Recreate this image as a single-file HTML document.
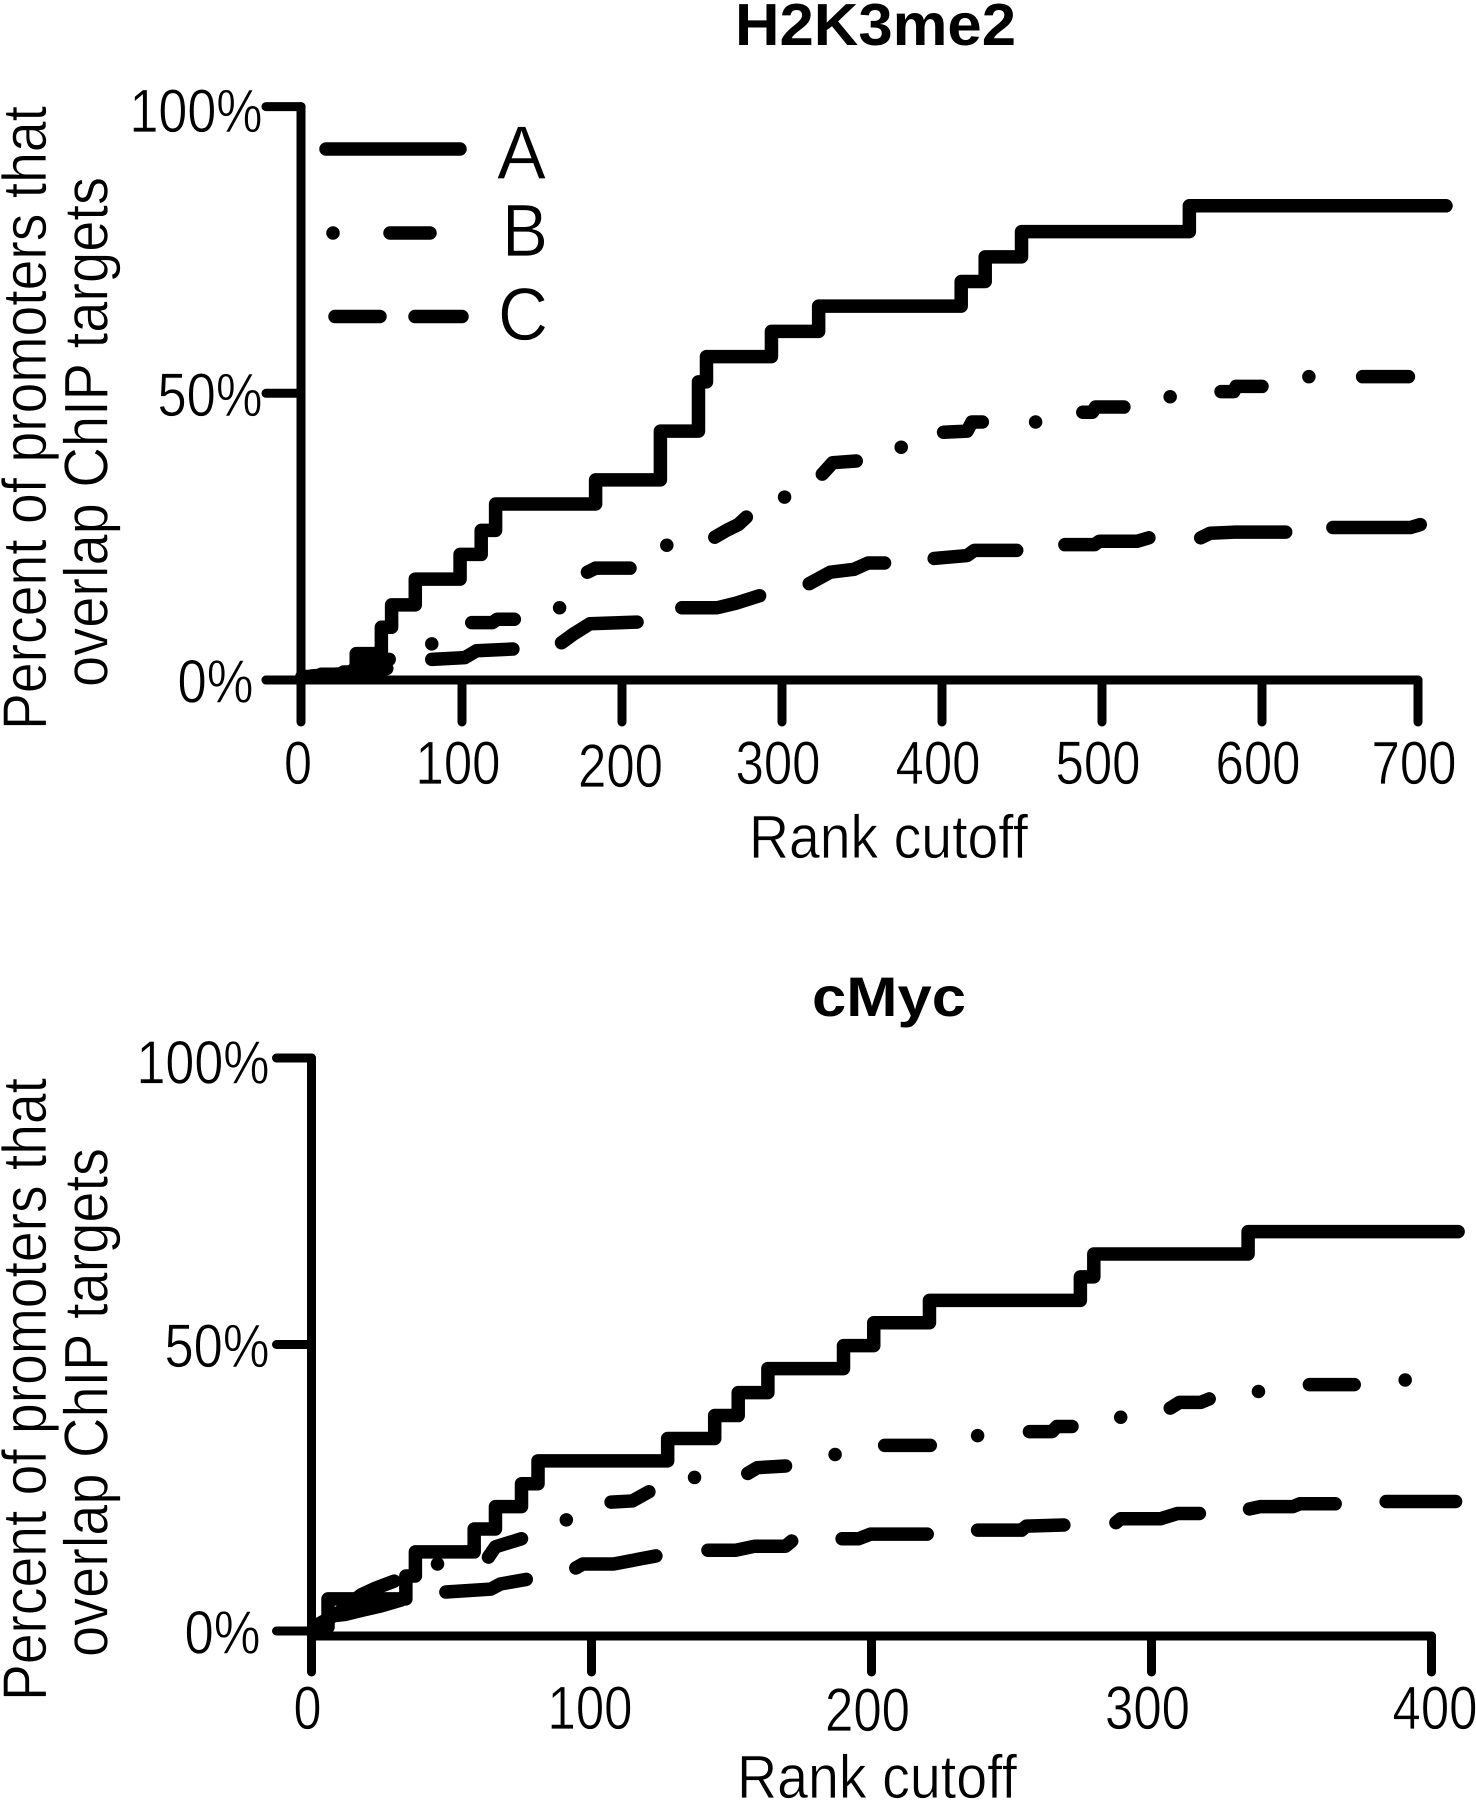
<!DOCTYPE html>
<html lang="en">
<head>
<meta charset="utf-8">
<title>Percent of promoters that overlap ChIP targets</title>
<style>
html,body{margin:0;padding:0;background:#fff;width:1476px;height:1800px;overflow:hidden}
svg{display:block}
text{font-family:"Liberation Sans",sans-serif;fill:#000;stroke:#fff;stroke-width:0.7}
text.bold{font-weight:bold;stroke:none}
.ax{stroke:#000;stroke-width:9;stroke-linecap:round;fill:none}
.ser{stroke:#000;stroke-width:13.5;stroke-linecap:round;stroke-linejoin:round;fill:none}
</style>
</head>
<body>
<svg id="chart" xmlns="http://www.w3.org/2000/svg" width="1476" height="1800" viewBox="0 0 1476 1800">
  <rect x="0" y="0" width="1476" height="1800" fill="#fff"/>
</svg>
<script>
// ---------- H2K3me2 panel data ----------
const h3Categories = ['A', 'B', 'C'];
const h3XTicks = [0, 100, 200, 300, 400, 500, 600, 697.5];
const h3XLabels = ['0', '100', '200', '300', '400', '500', '600', '700'];
const h3YTicks = [0, 50, 100];
const h3YLabels = ['0%', '50%', '100%'];
const h3SeriesA = [[0,0.6],[12,1],[26,1.4],[33.9,4.6],[49.6,9.2],[56,13.1],[70.8,17.6],[98.8,21.9],[112,26.1],[121,30.7],[183.5,34.9],[224,43.4],[247.8,52],[252.8,56.4],[293.4,60.8],[322.9,65.2],[412,69.5],[427,73.8],[449.7,78.2],[554.6,82.7],[715,82.7]];
const h3SeriesB = [
  [[5.9,0.7],[30,1.2],[35,2.6],[46,3],[54.5,3.6]],
  [[81.1,6.3]],
  [[106.1,10],[119,10],[122,10.6],[132.7,10.6]],
  [[161,12.6]],
  [[178.4,18.8],[183.4,19.5],[205,19.5]],
  [[228,23.5]],
  [[258,24.9],[265.4,26.1],[272.7,27.1],[277.7,28.4]],
  [[301.6,31.9]],
  [[325.2,35.9],[331.7,37.9],[346.4,38.2]],
  [[374.5,40.6]],
  [[401,43.2],[415.7,43.4],[418.7,45],[425.2,45]],
  [[458.5,45]],
  [[488,46.7],[494,46.7],[496,47.6],[513.7,47.6]],
  [[542.6,49.4]],
  [[574.4,50.3],[582.4,50.3],[583.8,51.2],[600,51.2]],
  [[629.3,52.9]],
  [[662.9,52.9],[691.5,52.9]]
];
const h3SeriesC = [
  [[8.8,0.7],[30,1],[53,2]],
  [[81.1,3.6],[101.7,3.9],[109,5.1],[131.8,5.4]],
  [[162.2,6.5],[169.6,8],[179.9,9.8],[209.4,10.1]],
  [[237.4,12.6],[259.5,12.6],[271.25,13.4],[286,14.7]],
  [[317,16.8],[330.2,18.8],[345,19.3],[353.8,20.4],[364.1,20.4]],
  [[395.1,21.2],[415.7,21.7],[420.2,22.6],[446.7,22.6]],
  [[476.8,23.6],[495.4,23.6],[498.3,24.2],[522,24.2],[529.3,24.8]],
  [[561.7,24.8],[567.6,25.6],[583.8,25.8],[614.8,25.8]],
  [[644.3,26.6],[693,26.6],[698.9,27.1]]
];

// ---------- cMyc panel data ----------
const myXTicks = [0, 100, 200, 300, 400];
const myXLabels = ['0', '100', '200', '300', '400'];
const myYTicks = [0, 50, 100];
const myYLabels = ['0%', '50%', '100%'];
const mySeriesA = [[0.8,0.7],[5.9,5.6],[33.7,9.6],[37.1,13.8],[58.1,17.8],[65.7,21.7],[75,25.7],[80.9,29.7],[127.2,33.6],[144,37.6],[152.4,41.6],[163,45.8],[190,49.8],[200.8,53.8],[220.7,57.7],[274.6,61.8],[279.4,65.8],[334.5,69.7],[409.5,69.7]];
const mySeriesB = [
  [[2.5,1.2],[9.2,3],[17.7,6.3],[23,7.5],[29.5,8.7]],
  [[45,11.7]],
  [[63.2,12.9],[65.7,14.7],[75,16.1]],
  [[91,19.4]],
  [[107,22.5],[114.6,22.7],[120.5,24.3]],
  [[136.8,26.8]],
  [[155.8,27.5],[159.2,28.5],[169.3,28.8]],
  [[187,30.8]],
  [[204.7,32.4],[221,32.4]],
  [[237.9,34.1]],
  [[256.4,34.8],[264.5,34.8],[266.2,35.7],[271.6,35.7]],
  [[289,37.3]],
  [[306.7,38.9],[310,39.9],[317.6,39.9],[320.6,40.5]],
  [[338.2,41.8]],
  [[356.4,43],[372.4,43]],
  [[390.6,43.8]]
];
const mySeriesC = [
  [[6.7,2.6],[12,2.9],[18,3.6],[25,4.4],[32,5.4]],
  [[48,6.8],[64,7.3],[67.4,8.2],[76.7,9]],
  [[94.4,11],[96.9,11.7],[107.9,11.7],[123,13.1]],
  [[141.6,14.1],[151.6,14.1],[158.3,14.8],[169.3,14.8],[171.5,15.7]],
  [[189.5,16.1],[195.4,16.1],[199.6,16.9],[219.9,16.9]],
  [[237.9,17.6],[253.6,17.6],[255.3,18.3],[268.7,18.5]],
  [[287.3,18.9],[289,19.6],[303.3,19.6],[309.2,20.5],[317.1,20.5]],
  [[335,21.3],[338.7,21.7],[350.5,21.7],[353,22.2],[365.6,22.2]],
  [[383.8,22.6],[408.6,22.6]]
];

const svg = document.getElementById('chart');
const NS = 'http://www.w3.org/2000/svg';

function addText(str, left, baseline, size, width, name, extra) {
  const el = document.createElementNS(NS, 'text');
  
  
  el.setAttribute('x', left);
  el.setAttribute('y', baseline);
  el.setAttribute('font-size', size);
  el.setAttribute('textLength', width);
  el.setAttribute('lengthAdjust', 'spacingAndGlyphs');
  if (extra && extra.bold) el.setAttribute('class', 'bold');
  if (extra && extra.rotate) el.setAttribute('transform', 'rotate(-90 ' + left + ' ' + baseline + ')');
  el.textContent = str;
  svg.appendChild(el);
  return el;
}

function addPath(d, cls, name) {
  const el = document.createElementNS(NS, 'path');
  
  
  el.setAttribute('d', d);
  el.setAttribute('class', cls);
  svg.appendChild(el);
  return el;
}

function widthFor(label) {
  return label.length === 1 ? 28 : 85;
}

function yWidthFor(label) {
  return label.length === 4 ? 133 : label.length === 3 ? 105 : 76;
}

function drawPanel(p) {
  const X = v => p.x0 + v * p.xScale;
  const Y = v => p.y0 - v * p.yScale;

  // axes
  addPath('M' + p.axisX + ' ' + Y(100) + 'V' + p.axisBottom, 'ax', p.key + '-y-axis');
  addPath('M' + (p.axisX - p.xAxisLead) + ' ' + p.xAxisY + 'H' + X(p.xTicks[p.xTicks.length - 1]), 'ax', p.key + '-x-axis');

  // y ticks and labels
  p.yTicks.forEach((t, i) => {
    const label = p.yLabels[i];
    addPath('M' + (p.axisX - 35) + ' ' + Y(t) + 'H' + p.axisX, 'ax', p.key + '-y-tick-' + t);
    const w = yWidthFor(label);
    const right = p.axisX - 42 + p.yLabelDx + (t === 0 ? -9 : 0);
    const base = Y(t) + (t === 100 ? 25.5 : 22.5);
    addText(label, right - w, base, 61, w, p.key + '-y-label-' + t);
  });

  // x ticks and labels
  p.xTicks.forEach((t, i) => {
    const label = p.xLabels[i];
    if (i > 0) addPath('M' + X(t) + ' ' + p.xAxisY + 'V' + p.axisBottom, 'ax', p.key + '-x-tick-' + label);
    const w = widthFor(label);
    const cx = X(t) - 4 + (p.labelDx[label] || 0);
    const base = p.xLabelY + (p.labelDy[label] || 0);
    addText(label, cx - w / 2, base, 61, w, p.key + '-x-label-' + label);
  });

  // series A : step line
  let d = '';
  p.a.forEach((pt, i) => {
    if (i === 0) d += 'M' + X(pt[0]) + ' ' + Y(pt[1]);
    else d += 'H' + X(pt[0]) + 'V' + Y(pt[1]);
  });
  addPath(d, 'ser', p.key + '-series-a');

  // series B and C : broken fragments
  [['b', p.b], ['c', p.c]].forEach(s => {
    s[1].forEach((frag, i) => {
      let f = 'M' + X(frag[0][0]) + ' ' + Y(frag[0][1]);
      if (frag.length === 1) f += 'h0.01';
      for (let j = 1; j < frag.length; j++) f += 'L' + X(frag[j][0]) + ' ' + Y(frag[j][1]);
      addPath(f, 'ser', p.key + '-series-' + s[0] + '-segment-' + (i + 1));
    });
  });
}

drawPanel({
  key: 'h3k', x0: 302, xScale: 1.6, y0: 680, yScale: 5.734,
  axisX: 301, axisBottom: 722, xAxisY: 680, xAxisLead: 35, xLabelY: 784, yLabelDx: 3.5,
  labelDx: {'200': 2.5}, labelDy: {'200': 3},
  xTicks: h3XTicks, xLabels: h3XLabels, yTicks: h3YTicks, yLabels: h3YLabels,
  a: h3SeriesA, b: h3SeriesB, c: h3SeriesC
});

drawPanel({
  key: 'cmyc', x0: 311.5, xScale: 2.8, y0: 1631, yScale: 5.73,
  axisX: 311.5, axisBottom: 1672, xAxisY: 1636, xAxisLead: 0, xLabelY: 1729, yLabelDx: 0,
  labelDx: {'400': 7.5, '100': 2.5}, labelDy: {'200': 2},
  xTicks: myXTicks, xLabels: myXLabels, yTicks: myYTicks, yLabels: myYLabels,
  a: mySeriesA, b: mySeriesB, c: mySeriesC
});

// titles
addText('H2K3me2', 735, 45, 59, 281, 'h3k-title', {bold: true});
addText('cMyc', 812, 1016, 56, 154, 'cmyc-title', {bold: true});

// axis titles
addText('Rank cutoff', 749, 858, 61, 279, 'h3k-x-axis-title');
addText('Rank cutoff', 737, 1798, 61, 280, 'cmyc-x-axis-title');
addText('Percent of promoters that', 46, 730, 62, 624, 'h3k-y-axis-title-line-1', {rotate: true});
addText('overlap ChIP targets', 107.5, 687, 62, 510, 'h3k-y-axis-title-line-2', {rotate: true});
addText('Percent of promoters that', 46, 1701, 62, 623, 'cmyc-y-axis-title-line-1', {rotate: true});
addText('overlap ChIP targets', 107.5, 1657, 62, 509, 'cmyc-y-axis-title-line-2', {rotate: true});

// legend
addPath('M326 149H460', 'ser', 'legend-line-a');
addPath('M333 233h0.01', 'ser', 'legend-dot-b');
addPath('M390 233H430', 'ser', 'legend-dash-b');
addPath('M335 316.5H380', 'ser', 'legend-dash-c-1');
addPath('M415 316.5H462', 'ser', 'legend-dash-c-2');
addText(h3Categories[0], 497, 179, 76, 49, 'legend-label-a');
addText(h3Categories[1], 502, 256, 74, 46, 'legend-label-b');
addText(h3Categories[2], 498, 340, 74, 50, 'legend-label-c');
</script>
</body>
</html>
